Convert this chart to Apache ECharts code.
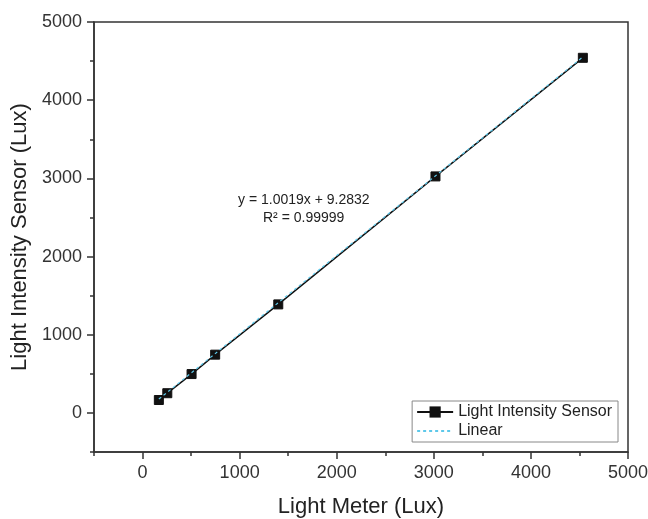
<!DOCTYPE html>
<html>
<head>
<meta charset="utf-8">
<script src="https://cdn.jsdelivr.net/npm/echarts@6/dist/echarts.min.js"></script>
<style>html,body{margin:0;padding:0;background:#fff}#c{width:648px;height:519px}</style>
</head>
<body>
<div id="c"></div>
<script>
const meterLux = [168, 255, 505, 748, 1398, 3017, 4535];
const sensorLux = [165, 252, 497, 745, 1388, 3025, 4542];
const fitX = [168, 4535];
const fitY = [177, 4553];
const xTickLabels = [0, 1000, 2000, 3000, 4000, 5000];
const yTickLabels = [0, 1000, 2000, 3000, 4000, 5000];
const xMinorTicks = [-500, 500, 1500, 2500, 3500, 4500];
const yMinorTicks = [-500, 500, 1500, 2500, 3500, 4500];
const seriesNames = ['Light Intensity Sensor', 'Linear'];
const equationText = ['y = 1.0019x + 9.2832', 'R\u00b2 = 0.99999'];

const font = 'Liberation Sans, Arial, sans-serif';
const axisCol = '#333';

function mainAxis(name, ticks, nameGap, labelMargin) {
  return {
    type: 'value', min: -500, max: 5000, interval: 500,
    name: name, nameLocation: 'middle', nameGap: nameGap,
    nameTextStyle: {fontFamily: font, fontSize: 22, color: '#222'},
    axisLine: {show: true, onZero: false, lineStyle: {color: axisCol, width: 1.5}},
    axisTick: {show: true, inside: false, length: 7, customValues: ticks, lineStyle: {color: axisCol, width: 1.5}},
    axisLabel: {customValues: ticks, fontFamily: font, fontSize: 18, color: '#333', margin: labelMargin,
      formatter: v => String(v)},
    splitLine: {show: false}
  };
}
function minorAxis(ticks) {
  return {
    type: 'value', min: -500, max: 5000, interval: 500,
    axisLine: {show: false, onZero: false},
    axisTick: {show: true, length: 4, customValues: ticks, lineStyle: {color: axisCol, width: 1.5}},
    axisLabel: {show: false},
    splitLine: {show: false}
  };
}

const xa = mainAxis('Light Meter (Lux)', xTickLabels, 44, 12); xa.position = 'bottom';
const xm = minorAxis(xMinorTicks); xm.position = 'bottom';
const ya = mainAxis('Light Intensity Sensor (Lux)', yTickLabels, 56, 12); ya.position = 'left';
const ym = minorAxis(yMinorTicks); ym.position = 'left';

const chart = echarts.init(document.getElementById('c'), null, {renderer: 'canvas'});
chart.setOption({
  animation: false,
  backgroundColor: '#fff',
  grid: {left: 94, right: 20, top: 22, bottom: 67, containLabel: false, outerBoundsMode: 'none',
    show: true, borderColor: axisCol, borderWidth: 1.5, backgroundColor: 'transparent'},
  xAxis: [xa, xm],
  yAxis: [ya, ym],
  legend: {
    data: [
      {name: seriesNames[0]},
      {name: seriesNames[1], itemStyle: {opacity: 0}}
    ],
    orient: 'vertical', right: 30, bottom: 77,
    backgroundColor: '#fff', borderColor: '#888', borderWidth: 1,
    padding: [3, 6, 3, 4], itemGap: 3, itemWidth: 36, itemHeight: 14,
    textStyle: {fontFamily: font, fontSize: 16, color: '#222'}
  },
  series: [
    {
      name: seriesNames[0], type: 'line', xAxisIndex: 0, yAxisIndex: 0,
      data: meterLux.map((x, i) => [x, sensorLux[i]]),
      symbol: 'rect', symbolSize: 9, showAllSymbol: true,
      lineStyle: {color: '#111', width: 1.5},
      itemStyle: {color: '#111', borderColor: '#111'},
      z: 2
    },
    {
      name: seriesNames[1], type: 'line', xAxisIndex: 0, yAxisIndex: 0,
      data: fitX.map((x, i) => [x, fitY[i]]),
      symbol: 'none',
      lineStyle: {color: '#5ec8ea', width: 1.2, type: [3, 3]},
      itemStyle: {color: '#5ec8ea'},
      z: 3
    }
  ],
  graphic: [
    {type: 'text', left: 238, top: 193, style: {text: equationText[0], font: '14px ' + font, fill: '#222'}},
    {type: 'text', left: 263, top: 211, style: {text: equationText[1], font: '14px ' + font, fill: '#222'}}
  ]
});
</script>
</body>
</html>
